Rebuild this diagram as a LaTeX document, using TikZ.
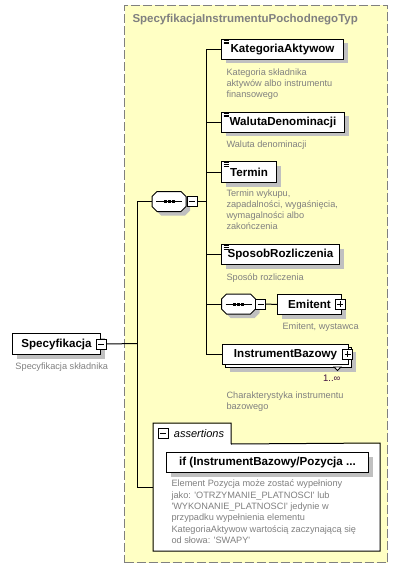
\documentclass[tikz,border=0pt]{standalone}
\usepackage{fontspec}
\setmainfont{Liberation Sans}
\definecolor{bgyellow}{RGB}{255,255,196}
\definecolor{shadowgray}{RGB}{192,192,192}
\definecolor{descgray}{RGB}{128,128,128}
\definecolor{titlegray}{RGB}{128,128,128}
\definecolor{dashgray}{RGB}{128,128,128}
\definecolor{occurcol}{RGB}{64,16,64}
\newcommand\sq{\textquotesingle}
\begin{document}
\begin{tikzpicture}[x=1pt,y=-1pt,line width=1pt,
  shd/.style={preaction={draw=none,fill=shadowgray,transform canvas={shift={(#1pt,-#1pt)}}}},
  elem/.style={draw=black, fill=white, inner sep=0pt, minimum height=20pt,
    font=\fontsize{11.6}{14}\selectfont\bfseries, shd=4},
  multielem/.style={draw=black, fill=white, inner sep=0pt, minimum height=20pt,
    font=\fontsize{11.6}{14}\selectfont\bfseries,
    preaction={draw=none,fill=shadowgray,transform canvas={shift={(7pt,-7pt)}}},
    preaction={draw=black,fill=white,transform canvas={shift={(3pt,-3pt)}}}},
  desc/.style={anchor=north west, inner sep=0pt, align=left, text=descgray,
    font=\fontsize{9.2}{11.1}\selectfont},
  btn/.style={draw=black, fill=white, minimum size=10pt, inner sep=0pt},
  minusbtn/.style={btn, path picture={\draw[line width=1pt] ([xshift=2pt]path picture bounding box.west) -- ([xshift=-2pt]path picture bounding box.east);}},
  plusbtn/.style={btn, path picture={\draw[line width=1pt] ([xshift=2pt]path picture bounding box.west) -- ([xshift=-2pt]path picture bounding box.east); \draw[line width=1pt] ([yshift=-2pt]path picture bounding box.north) -- ([yshift=2pt]path picture bounding box.south);}},
  comp/.style={minimum width=34pt, minimum height=20pt, inner sep=0pt},
  seqpic/.pic={
    \draw[fill=white, shd=4] (-17,-5) -- (-12,-10) -- (12,-10) -- (17,-5) -- (17,5) -- (12,10) -- (-12,10) -- (-17,5) -- cycle;
    \draw (-13,0) -- (13,0);
    \fill (-5.5,-1.5) rectangle (-2.5,1.5);
    \fill (-1.5,-1.5) rectangle (1.5,1.5);
    \fill (2.5,-1.5) rectangle (5.5,1.5);
  },
  simpleicon/.pic={
    \foreach \k in {0,1,2} \draw[line width=0.6pt] (2.5,{1.6+1.6*\k}) -- ++(5,0);
  }
]
\useasboundingbox (0,0) rectangle (411,580);

% complex type container
\node[draw=dashgray, dash pattern=on 9pt off 3pt, fill=bgyellow, minimum width=263pt,
  minimum height=557pt, anchor=north west, inner sep=0pt] (ctype) at (124,5) {};
\node[anchor=west, inner sep=0pt, text=titlegray, font=\fontsize{11.5}{14}\selectfont\bfseries]
  (title) at (132,20) {SpecyfikacjaInstrumentuPochodnegoTyp};

% root element
\node[elem, minimum width=88pt, minimum height=21pt, anchor=north west] (spec) at (12,333) {Specyfikacja};
\node[minusbtn] (specm) at (spec.east) {};
\node[desc] (specd) at (15,362.5) {Specyfikacja składnika};
\coordinate (bus0) at (137,343.5);

% main sequence
\node[comp] (seq) at (169,201.5) {};
\pic at (seq.center) {seqpic};
\node[minusbtn] (seqm) at (192,201.5) {};
\coordinate (bus1) at (206,201.5);

% children
\node[elem, minimum width=122pt, anchor=north west] (kat) at (221,39) {KategoriaAktywow};
\pic at (kat.north west) {simpleicon};
\node[desc] (katd) at (226,68.5) {Kategoria składnika\\aktywów albo instrumentu\\finansowego};

\node[elem, minimum width=123pt, anchor=north west] (wal) at (221,112) {WalutaDenominacji};
\pic at (wal.north west) {simpleicon};
\node[desc] (wald) at (226,140.5) {Waluta denominacji};

\node[elem, minimum width=55pt, minimum height=21pt, anchor=north west] (ter) at (221,161) {Termin};
\pic at (ter.north west) {simpleicon};
\node[desc] (terd) at (226,189.5) {Termin wykupu,\\zapadalności, wygaśnięcia,\\wymagalności albo\\zakończenia};

\node[elem, minimum width=118pt, anchor=north west] (spo) at (221,244) {SposobRozliczenia};
\pic at (spo.north west) {simpleicon};
\node[desc] (spod) at (226,273.5) {Sposób rozliczenia};

\node[comp, minimum width=33pt] (chs) at (238.5,304) {};
\pic at (chs.center) {seqpic};
\node[minusbtn] (chm) at (260.5,304) {};
\node[elem, minimum width=64pt, anchor=north west] (emi) at (277,294) {Emitent\hspace{6pt}};
\node[plusbtn] (emip) at (340,304) {};
\node[desc] (emid) at (282,322.5) {Emitent, wystawca};

\node[multielem, minimum width=126pt, anchor=north west] (ins) at (222,344) {InstrumentBazowy\hspace{4pt}};
\node[plusbtn] (insp) at (347.5,354) {};
\draw[line width=0.8pt, fill=white] (334,367) -- (341,367) -- (337.5,370.5) -- cycle;
\node[anchor=east, inner sep=0pt, text=occurcol, font=\fontsize{9.5}{11}\selectfont] (occ) at (341,378.5) {1..∞};
\node[desc] (insd) at (226,391.5) {Charakterystyka instrumentu\\bazowego};

% assertions
\node[fill=white, minimum width=226pt, minimum height=107pt, anchor=north west, inner sep=0pt] (abox) at (153,443) {};
\node[fill=white, minimum width=77pt, minimum height=20pt, anchor=north west, inner sep=0pt,
  font=\fontsize{11}{13}\selectfont\itshape] (atab) at (153,423) {\hspace*{14pt}assertions};
\draw (atab.south east) -- (abox.north east) -- (abox.south east) -- (abox.south west)
  -- (atab.north west) -- (atab.north east) -- (atab.south east);
\node[minusbtn] (atabm) at (163,433) {};
\coordinate (aconn) at (153,487);
\node[elem, minimum width=202pt, anchor=north west] (iff) at (166,452) {if (InstrumentBazowy/Pozycja ...};
\node[desc, font=\fontsize{9.2}{11.4}\selectfont] (iffd) at (171,479.5) {Element Pozycja może zostać wypełniony\\jako: \sq OTRZYMANIE\_PLATNOSCI\sq{} lub\\\sq WYKONANIE\_PLATNOSCI\sq{} jedynie w\\przypadku wypełnienia elementu\\KategoriaAktywow wartością zaczynającą się\\od słowa: \sq SWAPY\sq};

% connectors
\draw (specm.east) -- (bus0);
\draw (seq.west) -| (bus0);
\draw (aconn) -| (bus0);
\draw (seqm.east) -- (bus1);
\draw (kat.west) -| (bus1);
\draw (wal.west) -| (bus1);
\draw (ter.west) -| (bus1);
\draw (spo.west) -| (bus1);
\draw (chs.west) -| (bus1);
\draw (ins.west) -| (bus1);
\draw (chm.east) -- (emi.west);
\end{tikzpicture}
\end{document}
